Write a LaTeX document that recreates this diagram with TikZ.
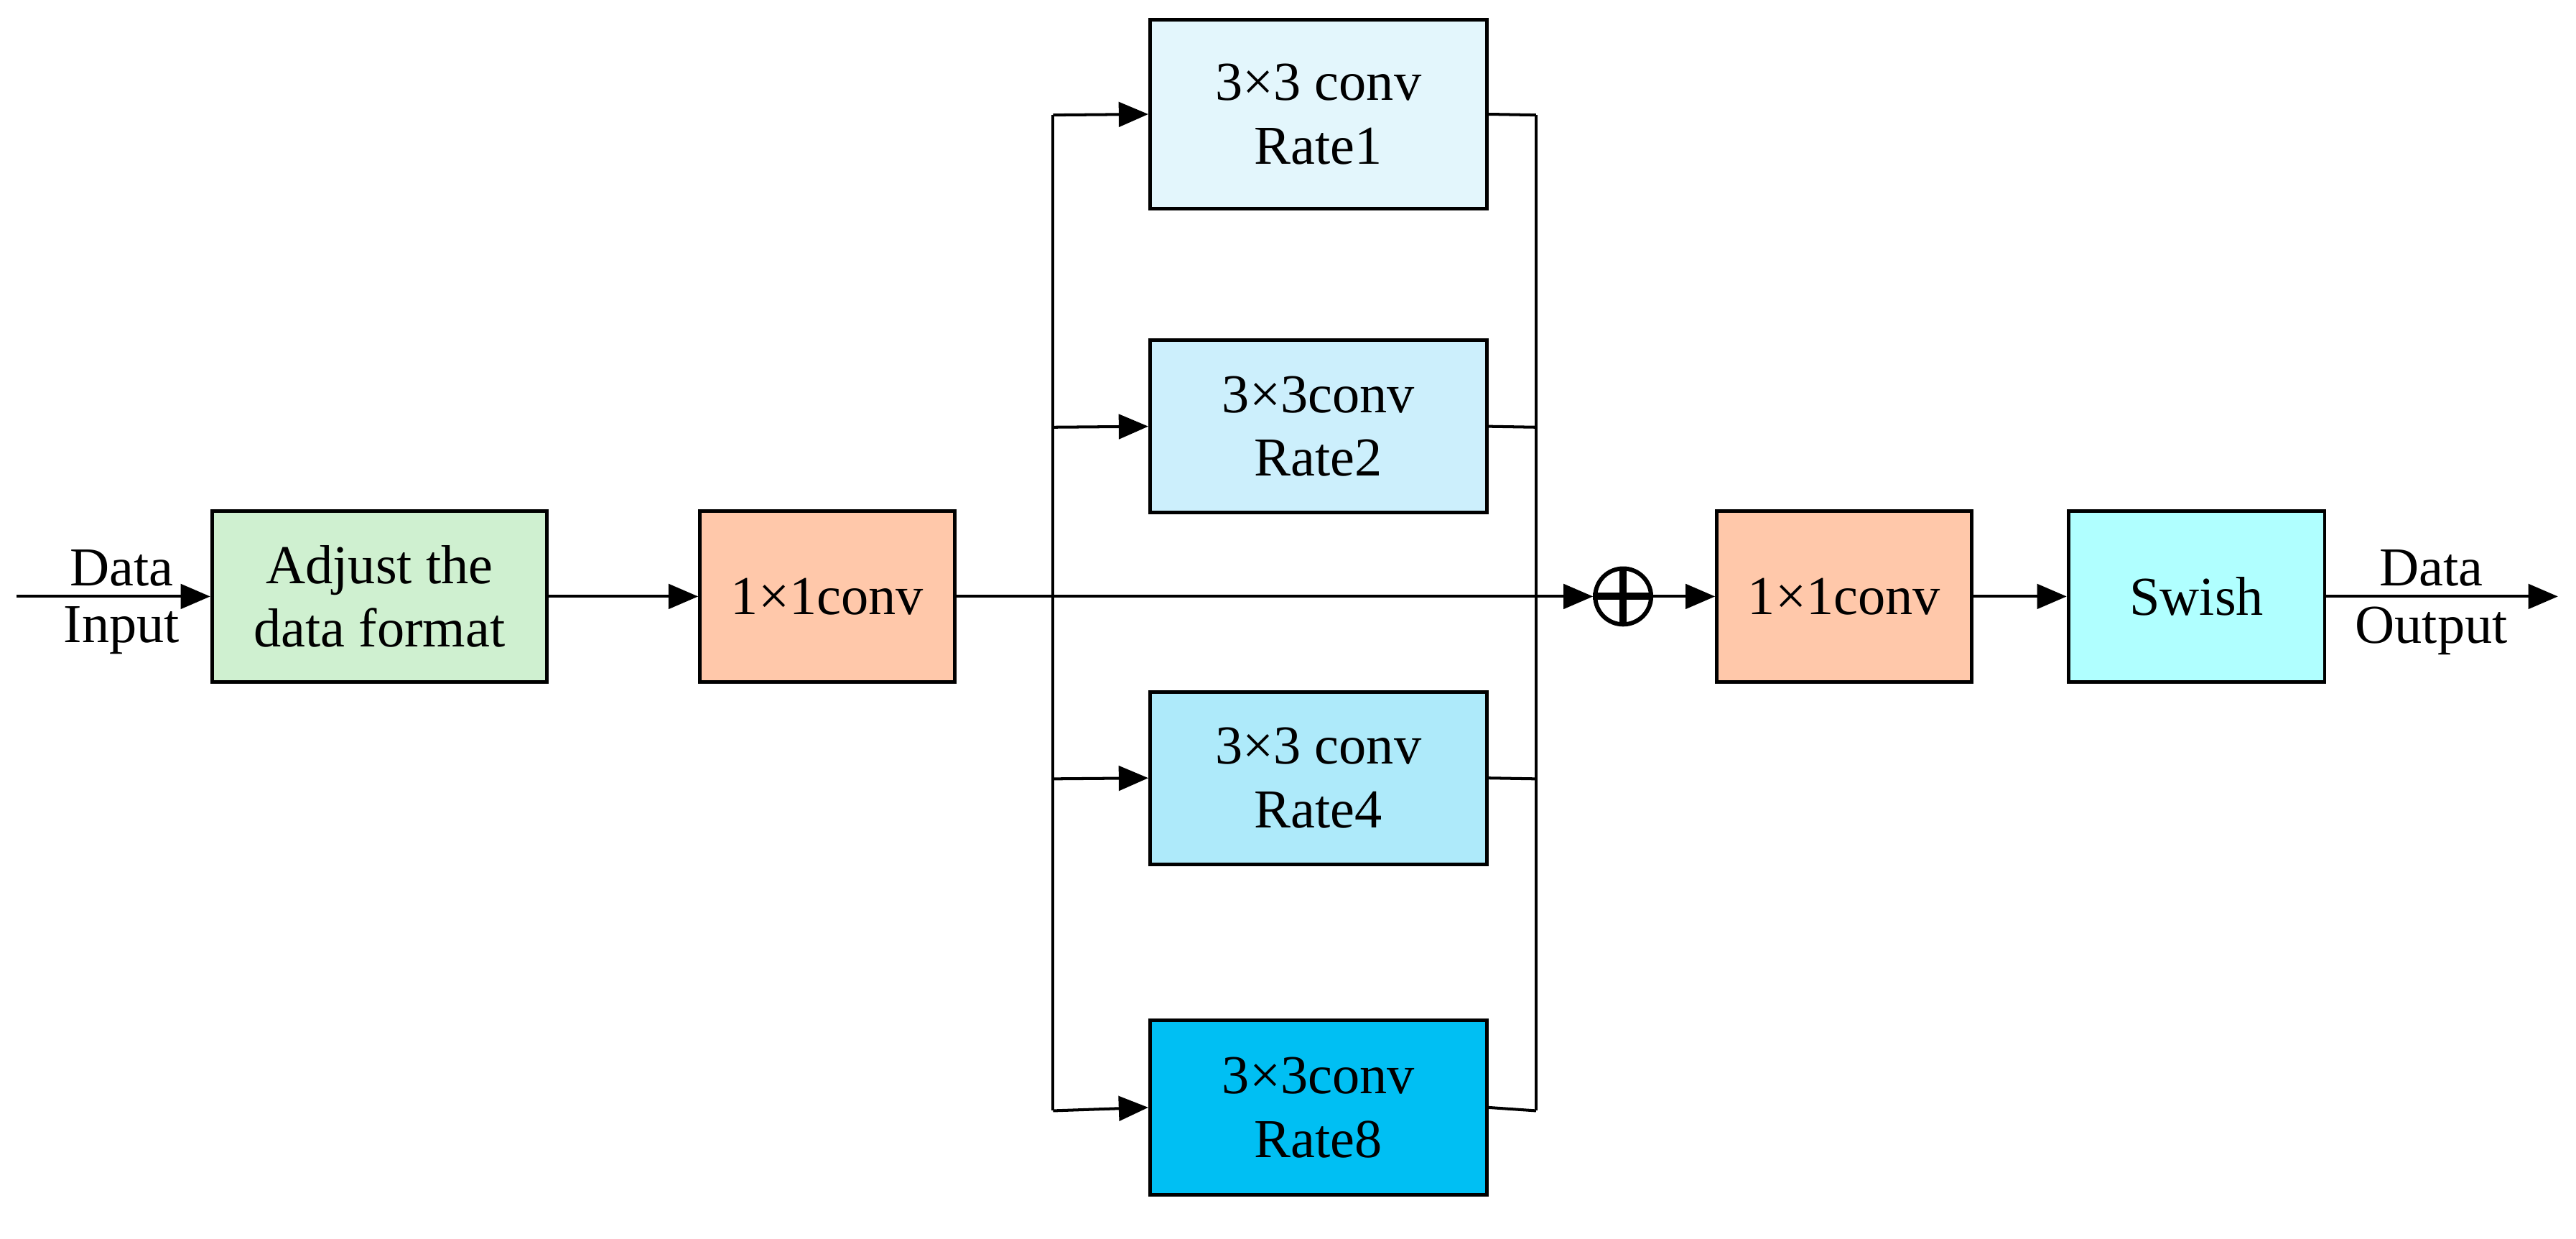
\documentclass[tikz,border=0pt]{standalone}
\usepackage{fontspec}
\setmainfont{Liberation Serif}
\usetikzlibrary{arrows.meta}
\definecolor{cgreen}{HTML}{CFF0D0}
\definecolor{corange}{HTML}{FFC8AA}
\definecolor{cr1}{HTML}{E3F6FC}
\definecolor{cr2}{HTML}{CCEFFC}
\definecolor{cr4}{HTML}{AEEAFA}
\definecolor{cr8}{HTML}{00BFF3}
\definecolor{cswish}{HTML}{B0FFFF}
\begin{document}
\begin{tikzpicture}[x=0.02cm,y=-0.02cm,
  box/.style={draw,line width=1.2pt,inner sep=0pt,align=center,font=\fontsize{19}{22}\selectfont},
  arr/.style={line width=1pt,-{Triangle[length=0.36cm,width=0.3cm]}},
  ln/.style={line width=1pt},
  lbl/.style={font=\fontsize{19}{22}\selectfont,inner sep=0pt}]
\useasboundingbox (0,0) rectangle (1568,754);
\node[box,fill=cgreen,minimum width=4.08cm,minimum height=2.08cm] (adj) at (231,363) {Adjust the\\data format};
\node[box,fill=corange,minimum width=3.1cm,minimum height=2.08cm] (c1) at (503.5,363) {1×1conv};
\node[box,fill=cr1,minimum width=4.1cm,minimum height=2.3cm] (r1) at (802.5,69.5) {3×3 conv\\Rate1};
\node[box,fill=cr2,minimum width=4.1cm,minimum height=2.1cm] (r2) at (802.5,259.5) {3×3conv\\Rate2};
\node[box,fill=cr4,minimum width=4.1cm,minimum height=2.1cm] (r4) at (802.5,473.5) {3×3 conv\\Rate4};
\node[box,fill=cr8,minimum width=4.1cm,minimum height=2.12cm] (r8) at (802.5,674) {3×3conv\\Rate8};
\node[draw,circle,line width=1.5pt,minimum size=0.68cm,inner sep=0pt] (op) at (988,363) {};
\draw[line width=2.5pt] (op.north)--(op.south) (op.west)--(op.east);
\node[box,fill=corange,minimum width=3.1cm,minimum height=2.08cm] (c2) at (1122.5,363) {1×1conv};
\node[box,fill=cswish,minimum width=3.12cm,minimum height=2.08cm] (sw) at (1337,363) {Swish};
\coordinate (in) at (10,363);
\coordinate (out) at (1557,363);
\coordinate (sT) at (641,70);
\coordinate (sB) at (641,676);
\coordinate (mT) at (935,70);
\coordinate (mB) at (935,676);
\draw[arr] (in) -- (adj.west);
\node[lbl,anchor=south] at (74,357) {Data};
\node[lbl,anchor=north] at (74,369) {Input};
\draw[arr] (adj.east) -- (c1.west);
\draw[arr] (c1.east) -- (op.west);
\draw[ln] (sT) -- (sB);
\draw[ln] (mT) -- (mB);
\draw[arr] (sT) -- (r1.west);
\draw[arr] (641,260) -- (r2.west);
\draw[arr] (641,474) -- (r4.west);
\draw[arr] (sB) -- (r8.west);
\draw[ln] (r1.east) -- (mT);
\draw[ln] (r2.east) -- (935,260);
\draw[ln] (r4.east) -- (935,474);
\draw[ln] (r8.east) -- (mB);
\draw[arr] (op.east) -- (c2.west);
\draw[arr] (c2.east) -- (sw.west);
\draw[arr] (sw.east) -- (out);
\node[lbl,anchor=south] at (1480,357) {Data};
\node[lbl,anchor=north] at (1480,369) {Output};
\end{tikzpicture}
\end{document}
